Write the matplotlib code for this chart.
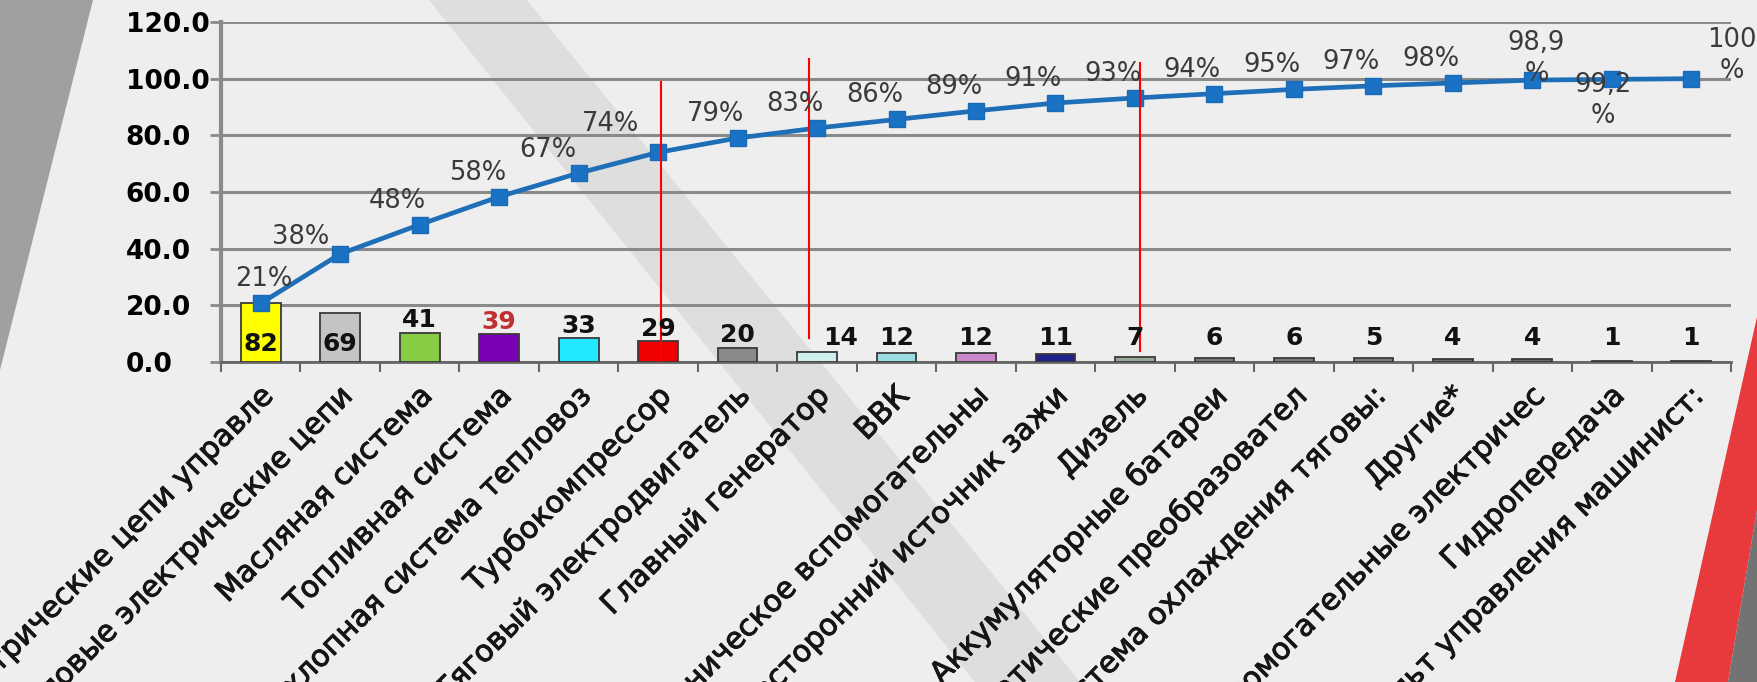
import numpy as np
import matplotlib.pyplot as plt
import matplotlib.transforms as mtransforms
import matplotlib.patheffects as pe
from matplotlib.patches import Polygon

categories = ["Электрические цепи управле", "Силовые электрические цепи", "Масляная система",
              "Топливная система", "Выхлопная система тепловоз", "Турбокомпрессор",
              "Тяговый электродвигатель", "Главный генератор", "ВВК",
              "Механическое вспомогательны", "Посторонний источник зажи", "Дизель",
              "Аккумуляторные батареи", "Статические преобразовател",
              "Система охлаждения тяговы:", "Другие*", "Вспомогательные электричес",
              "Гидропередача", "Пульт управления машинист:"]
counts = [82, 69, 41, 39, 33, 29, 20, 14, 12, 12, 11, 7, 6, 6, 5, 4, 4, 1, 1]
cum_labels = ["21%", "38%", "48%", "58%", "67%", "74%", "79%", "83%", "86%", "89%",
              "91%", "93%", "94%", "95%", "97%", "98%", "98,9\n%", "99,2\n%", "100\n%"]
bar_colors = ["#FFFF00", "#C4C4C4", "#88CC44", "#7A00B8", "#22E8FF", "#F00000",
              "#8A8A8A", "#CFEFEF", "#9ADCE2", "#CC88CC", "#22228E", "#98A898",
              "#7A7A7A", "#7A7A7A", "#7A7A7A", "#6A6A6A", "#6A6A6A", "#555555", "#555555"]
yticks = [0, 20, 40, 60, 80, 100, 120]
# red marker lines drawn over the chart (x in category units, y in axis units)
red_x = [5.04, 6.9, 11.06]
red_top = [99, 107, 105.5]
red_bottom = [0, 8.5, 3.9]

W, H = 1757, 682
total = sum(counts)
pct = np.array(counts) / total * 100
cum = np.cumsum(counts) / total * 100
x = np.arange(len(counts))

fig = plt.figure(figsize=(W / 100, H / 100), dpi=100)
fig.patch.set_facecolor("#EEEEEE")


def fig_poly(pts, color):
    xy = [(px / W, 1 - py / H) for px, py in pts]
    fig.add_artist(Polygon(xy, closed=True, transform=fig.transFigure,
                           facecolor=color, edgecolor="none", zorder=0))


# slide decorations
fig_poly([(0, 0), (93, 0), (0, 370)], "#A0A0A0")
fig_poly([(429, 0), (527, 0), (1080, 682), (975, 682)], "#DEDEDE")
fig_poly([(1757, 317), (1675, 682), (1728, 682), (1757, 510)], "#E8393C")
fig_poly([(1757, 510), (1728, 682), (1757, 682)], "#737373")

ax = fig.add_axes([221 / W, 1 - 362 / H, 1510 / W, 340 / H])
ax.set_zorder(1)
ax.patch.set_alpha(0)

ax.bar(x, pct, width=0.5, color=bar_colors, edgecolor="#3A3A3A", linewidth=1.3, zorder=3)
ax.plot(x, cum, color="#1F6EB8", lw=3.4, marker="s", ms=11.5, mfc="#1A72C4",
        mec="#1A6AB5", zorder=4)

for xi, yb, yt in zip(red_x, red_bottom, red_top):
    ax.plot([xi, xi], [yb, yt], color="#FF0000", lw=1.5, zorder=5)

# count labels
for i, (c, h) in enumerate(zip(counts, pct)):
    col = "#C03030" if c == 39 else "#111111"
    if i < 2:
        ax.text(i, 6.5, str(c), ha="center", va="center", fontsize=18,
                fontweight="bold", color=col, zorder=6)
    else:
        dx = 0.3 if c == 14 else 0
        ax.text(i + dx, max(h + 0.2, 4.4), str(c), ha="center", va="bottom",
                fontsize=18, fontweight="bold", color=col, zorder=6)

# cumulative labels
offs = [(-22, 24)] * 16 + [(4, 22), (-9, -21), (41, 23)]
offs[0] = (3, 24)
offs[1] = (-40, 17)
offs[4] = (-31, 23)
offs[5] = (-48, 28)
for i, (c, lbl) in enumerate(zip(cum, cum_labels)):
    ax.annotate(lbl, (i, c), xytext=offs[i], textcoords="offset pixels",
                ha="center", va="center", fontsize=18.5, color="#3A3A3A",
                linespacing=1.25, zorder=6, annotation_clip=False)

ax.set_xlim(-0.5, len(counts) - 0.5)
ax.set_ylim(0, 120)
ax.set_yticks(yticks)
ax.set_yticklabels([f"{v:.1f}" for v in yticks], fontsize=19, fontweight="bold")
for lbl in ax.get_yticklabels():
    lbl.set_horizontalalignment("left")
ax.tick_params(axis="y", length=8, width=2, color="#8A8A8A", pad=60.5)
ax.yaxis.grid(True, color="#8A8A8A", lw=2.2)
ax.set_axisbelow(True)

ax.set_xticks(x)
ax.set_xticklabels(categories, rotation=45, ha="right", va="center",
                   rotation_mode="anchor", fontsize=21.5, color="#151515")
ax.tick_params(axis="x", which="major", length=0, pad=16)
shift = mtransforms.ScaledTranslation(8 / 100, -7 / 100, fig.dpi_scale_trans)
for lbl in ax.get_xticklabels():
    lbl.set_transform(lbl.get_transform() + shift)
    lbl.set_path_effects([pe.withStroke(linewidth=0.7, foreground="#151515")])
ax.set_xticks(np.arange(-0.5, len(counts)), minor=True)
ax.tick_params(axis="x", which="minor", length=7, width=1.5, color="#666666")

for s in ["top", "right"]:
    ax.spines[s].set_visible(False)
ax.spines["left"].set_color("#8A8A8A")
ax.spines["left"].set_linewidth(3)
ax.spines["bottom"].set_color("#666666")
ax.spines["bottom"].set_linewidth(2)

fig.savefig("out.png", dpi=100, facecolor=fig.get_facecolor())
